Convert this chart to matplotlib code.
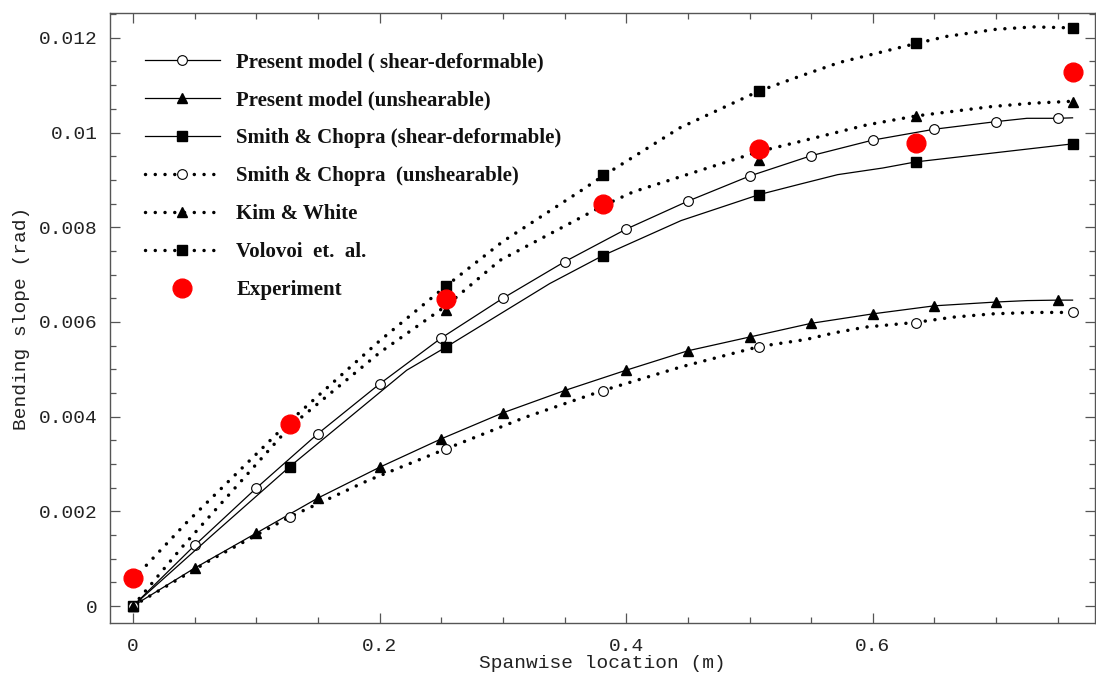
import matplotlib
matplotlib.use('Agg')
import matplotlib.pyplot as plt
from matplotlib.lines import Line2D
from matplotlib.ticker import MultipleLocator, FuncFormatter

# ---------------- data ----------------
# Present model: solid lines, markers every 0.05 m
x_present = [0.0, 0.05, 0.10, 0.15, 0.20, 0.25, 0.30, 0.35, 0.40, 0.45,
             0.50, 0.55, 0.60, 0.65, 0.70, 0.725, 0.75, 0.762]
present_shear = [0.0, 0.00128, 0.00249, 0.00364, 0.00469, 0.00566, 0.00650,
                 0.00727, 0.00796, 0.00855, 0.00908, 0.00951, 0.00984,
                 0.01007, 0.01023, 0.01030, 0.01030, 0.01031]
present_unshear = [0.0, 0.00080, 0.00154, 0.00228, 0.00293, 0.00353, 0.00408,
                   0.00455, 0.00498, 0.00539, 0.00568, 0.00597, 0.00617,
                   0.00634, 0.00642, 0.00645, 0.00646, 0.00646]

# Measurement stations (markers of literature results / experiment)
x_station = [0.0, 0.127, 0.254, 0.381, 0.508, 0.635, 0.762]

# Smith & Chopra (shear-deformable): solid curve + square markers
x_sc_shear = [0.0, 0.0635, 0.127, 0.222, 0.254, 0.338, 0.381, 0.4445,
              0.508, 0.541, 0.5715, 0.608, 0.635, 0.762]
sc_shear = [0.0, 0.00148, 0.00294, 0.00498, 0.00547, 0.00681, 0.00740,
            0.00814, 0.00869, 0.00891, 0.00911, 0.00925, 0.00938, 0.00976]
sc_shear_mk = [0.0, 0.00294, 0.00547, 0.00740, 0.00869, 0.00938, 0.00976]

# Smith & Chopra (unshearable): dotted curve + open circles
x_sc_unsh = [0.0, 0.0635, 0.127, 0.1905, 0.254, 0.3175, 0.381, 0.4445,
             0.508, 0.546, 0.569, 0.594, 0.635, 0.665, 0.697, 0.730, 0.762]
sc_unsh = [0.0, 0.00098, 0.00188, 0.00265, 0.00332, 0.00398, 0.00455,
           0.00505, 0.00548, 0.00563, 0.00577, 0.00589, 0.00599, 0.00610,
           0.00617, 0.00620, 0.00620]
sc_unsh_mk = [0.0, 0.00188, 0.00332, 0.00455, 0.00548, 0.00597, 0.00620]

# Kim & White: dotted curve + triangles
x_kw = [0.0, 0.040, 0.127, 0.200, 0.254, 0.2976, 0.381, 0.406, 0.508, 0.541,
        0.595, 0.635, 0.697, 0.730, 0.762]
kw = [0.0, 0.00125, 0.00378, 0.00535, 0.00634, 0.00730, 0.00845, 0.00875,
      0.00960, 0.00981, 0.01016, 0.01035, 0.01055, 0.01062, 0.01066]
kw_mk = [0.0, 0.00380, 0.00625, 0.00845, 0.00942, 0.01035, 0.01065]

# Volovoi et al.: dotted curve + squares
x_vol = [0.0, 0.043, 0.127, 0.200, 0.254, 0.300, 0.365, 0.381, 0.4436,
         0.508, 0.541, 0.573, 0.635, 0.660, 0.700, 0.730, 0.762]
vol = [0.00056, 0.00175, 0.00390, 0.00560, 0.00676, 0.00770, 0.00880,
       0.00908, 0.01010, 0.01088, 0.01119, 0.01148, 0.01188, 0.01203,
       0.01218, 0.01223, 0.01221]
vol_mk = [0.00056, 0.00388, 0.00676, 0.00910, 0.01088, 0.01188, 0.01221]

# Experiment
experiment = [0.00059, 0.00384, 0.00648, 0.00849, 0.00965, 0.00978, 0.01128]

labels = ["Present model ( shear-deformable)",
          "Present model (unshearable)",
          "Smith & Chopra (shear-deformable)",
          "Smith & Chopra  (unshearable)",
          "Kim & White",
          "Volovoi  et.  al.",
          "Experiment"]
x_label = "Spanwise location (m)"
y_label = "Bending slope (rad)"

# ---------------- plotting ----------------
mono = ['Liberation Mono', 'DejaVu Sans Mono']
serif = ['Liberation Serif', 'DejaVu Serif']

fig = plt.figure(figsize=(10.96, 6.79), dpi=100)
ax = fig.add_axes([110 / 1096, 1 - 623 / 679, 985 / 1096, 610 / 679])

solid_lw = 0.9
dot_style = dict(color='black', linewidth=2.5, linestyle=(0, (0.01, 2.8)),
                 dash_capstyle='round')
ms = 7.0

mk_idx = [i for i, v in enumerate(x_present) if v not in (0.725, 0.762)]

# solid lines
ax.plot(x_present, present_shear, color='black', lw=solid_lw, marker='o',
        markevery=mk_idx, ms=ms, mfc='white', mec='black', mew=0.8, zorder=3)
ax.plot(x_present, present_unshear, color='black', lw=solid_lw, marker='^',
        markevery=mk_idx, ms=ms, mfc='black', mec='black', zorder=3)
ax.plot(x_sc_shear, sc_shear, color='black', lw=solid_lw, zorder=3)
ax.plot(x_station, sc_shear_mk, ls='none', marker='s', ms=ms, color='black',
        zorder=4)

# dotted lines
ax.plot(x_sc_unsh, sc_unsh, zorder=2, **dot_style)
ax.plot(x_station, sc_unsh_mk, ls='none', marker='o', ms=ms, mfc='white',
        mec='black', mew=0.8, zorder=4)
ax.plot(x_kw, kw, zorder=2, **dot_style)
ax.plot(x_station, kw_mk, ls='none', marker='^', ms=ms, color='black',
        zorder=4)
ax.plot(x_vol, vol, zorder=2, **dot_style)
ax.plot(x_station, vol_mk, ls='none', marker='s', ms=ms, color='black',
        zorder=4)

# experiment
ax.plot(x_station, experiment, ls='none', marker='o', ms=13.5, color='#ff0000',
        mec='#ff0000', zorder=6)

ax.set_xlim(-0.01865, 0.7802)
ax.set_ylim(-0.000359, 0.012524)

ax.xaxis.set_major_locator(MultipleLocator(0.2))
ax.xaxis.set_minor_locator(MultipleLocator(0.05))
ax.yaxis.set_major_locator(MultipleLocator(0.002))
ax.yaxis.set_minor_locator(MultipleLocator(0.0005))


def fmt(v, pos):
    s = ('%.4f' % v).rstrip('0').rstrip('.')
    if s in ('-0', ''):
        s = '0'
    return s


ax.xaxis.set_major_formatter(FuncFormatter(fmt))
ax.yaxis.set_major_formatter(FuncFormatter(fmt))

spine_c = '#555555'
for s in ax.spines.values():
    s.set_color(spine_c)
    s.set_linewidth(1.0)
ax.tick_params(which='both', direction='in', top=True, right=True,
               color=spine_c, width=0.9)
ax.tick_params(which='major', length=7)
ax.tick_params(which='minor', length=4)
ax.tick_params(axis='y', which='major', pad=9)
ax.tick_params(axis='x', which='major', pad=11)
for lab in ax.get_xticklabels() + ax.get_yticklabels():
    lab.set_family(mono)
    lab.set_fontsize(14)
    lab.set_color('#222222')

ax.set_xlabel(x_label, family=mono, fontsize=14, labelpad=0, color='#222222')
ax.set_ylabel(y_label, family=mono, fontsize=14, labelpad=6, color='#222222')

# legend
handles = [
    Line2D([], [], color='black', lw=solid_lw, marker='o', ms=ms,
           mfc='white', mec='black', mew=0.8),
    Line2D([], [], color='black', lw=solid_lw, marker='^', ms=ms),
    Line2D([], [], color='black', lw=solid_lw, marker='s', ms=ms),
    Line2D([], [], marker='o', ms=ms, mfc='white', mec='black', mew=0.8,
           **dot_style),
    Line2D([], [], marker='^', ms=ms, **dot_style),
    Line2D([], [], marker='s', ms=ms, **dot_style),
    Line2D([], [], ls='none', marker='o', ms=13.5, color='#ff0000'),
]
leg = ax.legend(handles, labels, loc='upper left',
                bbox_to_anchor=(0.0355, 0.935), frameon=False,
                prop=dict(family=serif, weight='bold', size=15),
                handlelength=3.6, handletextpad=0.78, labelspacing=0.86,
                borderaxespad=0, borderpad=0, numpoints=1)
for t in leg.get_texts():
    t.set_color('#111111')

fig.savefig('out.png', dpi=100)
